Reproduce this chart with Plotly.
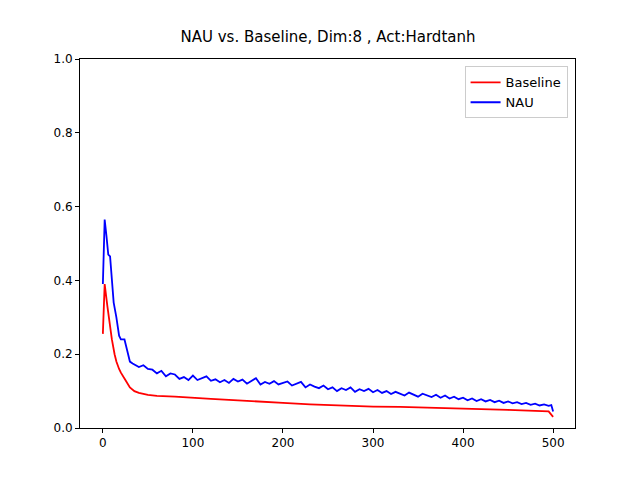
import plotly.graph_objects as go

# Baseline curve
base_x = [0, 2, 5, 8, 10, 13, 15, 18, 20, 25, 30, 35, 40, 50, 60, 80, 100, 120, 150, 180, 200,
          230, 250, 280, 300, 330, 350, 380, 400, 420, 450, 470, 490, 495, 500]
base_y = [0.255, 0.39, 0.33, 0.27, 0.24, 0.2, 0.18, 0.16, 0.15, 0.13, 0.11, 0.1, 0.095, 0.09, 0.087,
          0.085, 0.081, 0.079, 0.075, 0.07, 0.068, 0.064, 0.062, 0.06, 0.058, 0.057, 0.056, 0.055,
          0.053, 0.051, 0.049, 0.048, 0.047, 0.045, 0.03]

# NAU curve (noisy)
nau_x = [0, 2, 4, 6, 8, 10, 12, 15, 18, 20, 24, 27, 30, 33, 36, 40, 45, 50, 55, 60, 65, 70, 75,
         80, 85, 90, 95, 100, 105, 110, 115, 120, 125, 130, 135, 140, 145, 150, 155, 160, 165,
         170, 175, 180, 185, 190, 195, 200, 205, 210, 215, 220, 225, 230, 235, 240, 245, 250,
         255, 260, 265, 270, 275, 280, 285, 290, 295, 300, 305, 310, 315, 320, 325, 330, 335,
         340, 345, 350, 355, 360, 365, 370, 375, 380, 385, 390, 395, 400, 405, 410, 415, 420,
         425, 430, 435, 440, 445, 450, 455, 460, 465, 470, 475, 480, 485, 490, 495, 498, 500]
nau_y = [0.39, 0.565, 0.52, 0.47, 0.465, 0.4, 0.34, 0.3, 0.25, 0.24, 0.24, 0.21, 0.18, 0.175,
         0.17, 0.165, 0.17, 0.16, 0.158, 0.148, 0.155, 0.14, 0.148, 0.145, 0.133, 0.138, 0.13,
         0.142, 0.13, 0.135, 0.14, 0.128, 0.132, 0.124, 0.13, 0.122, 0.133, 0.126, 0.131, 0.12,
         0.128, 0.135, 0.118, 0.125, 0.12, 0.127, 0.118, 0.122, 0.126, 0.115, 0.12, 0.125, 0.11,
         0.118, 0.112, 0.108, 0.115, 0.105, 0.11, 0.1, 0.108, 0.103, 0.11, 0.098, 0.105, 0.1,
         0.106, 0.097, 0.103, 0.095, 0.1, 0.092, 0.098, 0.094, 0.088, 0.096, 0.09, 0.085, 0.093,
         0.088, 0.084, 0.09, 0.082, 0.088, 0.08, 0.085, 0.078, 0.082, 0.075, 0.08, 0.073, 0.078,
         0.072, 0.076, 0.07, 0.074, 0.068, 0.072, 0.067, 0.07, 0.065, 0.068, 0.063, 0.066, 0.061,
         0.064, 0.06, 0.062, 0.045]

fig = go.Figure()
fig.add_trace(go.Scatter(x=base_x, y=base_y, mode='lines', name='Baseline',
                         line=dict(color='red', width=1.8)))
fig.add_trace(go.Scatter(x=nau_x, y=nau_y, mode='lines', name='NAU',
                         line=dict(color='blue', width=1.8)))

axis_style = dict(showgrid=False, zeroline=False, showline=True, mirror=True, linecolor='black',
                  linewidth=1, ticks='outside', ticklen=4, tickcolor='black', automargin=False)
fig.update_layout(
    width=640, height=480,
    plot_bgcolor='white', paper_bgcolor='white',
    margin=dict(l=72, r=73, t=51, b=60),
    font=dict(family='DejaVu Sans', size=12, color='black'),
    title=dict(text='NAU vs. Baseline, Dim:8 , Act:Hardtanh', x=0.5, xanchor='center',
               y=0.94, yanchor='middle', font=dict(size=15)),
    xaxis=dict(range=[-25.4, 524.3], tickvals=[0, 100, 200, 300, 400, 500], **axis_style),
    yaxis=dict(range=[0, 1], tickvals=[0, 0.2, 0.4, 0.6, 0.8, 1.0], tickformat='.1f', **axis_style),
    legend=dict(x=0.985, y=0.98, xanchor='right', yanchor='top', bordercolor='#cccccc',
                borderwidth=1, bgcolor='white', font=dict(size=13)),
)
fig.write_html("out.html")
